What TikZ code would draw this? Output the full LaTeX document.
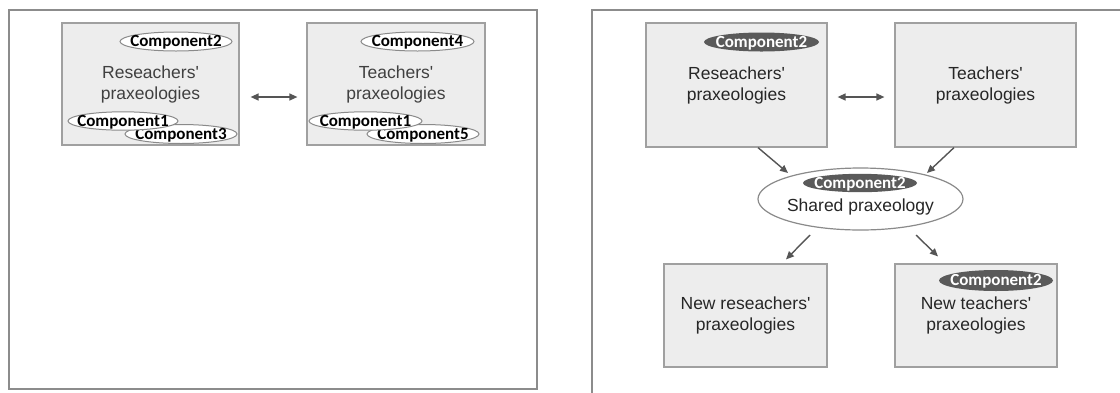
\documentclass[tikz,border=0pt]{standalone}
\usepackage{fontspec}
\setmainfont{Liberation Sans}
\newfontfamily\compfont{Carlito}
\usetikzlibrary{shapes.geometric,arrows.meta}
\definecolor{panelline}{HTML}{8C8C8C}
\definecolor{boxline}{HTML}{A0A0A0}
\definecolor{boxfill}{HTML}{EDEDED}
\definecolor{ovalline}{HTML}{8A8A8A}
\definecolor{darkoval}{HTML}{5A5A5A}
\definecolor{arrowgray}{HTML}{555555}
\definecolor{softtext}{HTML}{404040}
\definecolor{hardtext}{HTML}{262626}
% zero-width label so the oval keeps the size given by its style
\newcommand\ctag[1]{\makebox[0pt]{#1}}
\begin{document}
\begin{tikzpicture}[x=1pt,y=-1pt,
  panel/.style={draw=panelline,line width=1.5pt},
  pbox/.style={draw=boxline,fill=boxfill,line width=1.2pt,inner sep=0pt,
    align=center,font=\fontsize{17.5}{21}\selectfont},
  softbox/.style={pbox,text=softtext},
  hardbox/.style={pbox,text=hardtext},
  tagfont/.style={font=\compfont\bfseries\fontsize{17}{18}\selectfont,
    text height=11.5pt,text depth=1.5pt},
  comp/.style={ellipse,draw=ovalline,fill=white,line width=1pt,inner sep=0pt,
    minimum width=112pt,minimum height=19pt,text=black,tagfont},
  darkcomp/.style={ellipse,fill=darkoval,inner sep=0pt,
    minimum width=115pt,minimum height=19pt,text=white,tagfont},
  link/.style={draw=arrowgray,line width=1.4pt,
    -{Triangle[length=8pt,width=7pt]}},
  twoway/.style={link,{Triangle[length=8pt,width=7pt]}-{Triangle[length=8pt,width=7pt]}}
]
\useasboundingbox (0,0) rectangle (1120,392);
\clip (0,0) rectangle (1120,392);

% ---------- left panel: separate praxeologies ----------
\draw[panel] (9,10) rectangle (537,389);

\node[softbox,minimum width=177pt,minimum height=122pt] (lres) at (150.5,84)
  {Reseachers\textquotesingle\\praxeologies};
\node[softbox,minimum width=178pt,minimum height=122pt] (ltea) at (396,84)
  {Teachers\textquotesingle\\praxeologies};

% lower ovals first, so Component1 lies on top of them
\node[comp] (lrc3) at (181,134) {\ctag{Component3}};
\node[comp] (ltc5) at (423,134) {\ctag{Component5}};
\node[comp] (lrc2) at (176,41.5) {\ctag{Component2}};
\node[comp,minimum width=110pt,minimum height=18pt] (lrc1) at (123,121) {\ctag{Component1}};
\node[comp,minimum width=113pt] (ltc4) at (417.5,41.5) {\ctag{Component4}};
\node[comp,minimum width=113pt,minimum height=18pt] (ltc1) at (365.5,121) {\ctag{Component1}};

\draw[twoway,shorten <=11pt,shorten >=9pt]
  ([yshift=-13pt]lres.east) -- ([yshift=-13pt]ltea.west);

% ---------- right panel: shared praxeology ----------
\draw[panel] (592,10) rectangle (1140,410);

\node[hardbox,minimum width=181pt,minimum height=124pt] (rres) at (736.5,85)
  {Reseachers\textquotesingle\\praxeologies};
\node[hardbox,minimum width=181pt,minimum height=124pt] (rtea) at (985.5,85)
  {Teachers\textquotesingle\\praxeologies};
\node[darkcomp] (rrc2) at (761.5,42) {\ctag{Component2}};

\draw[twoway,shorten <=10pt,shorten >=10pt]
  ([yshift=-12pt]rres.east) -- ([yshift=-12pt]rtea.west);

\node[ellipse,draw=ovalline,fill=white,line width=1.2pt,inner sep=0pt,
  minimum width=205pt,minimum height=62pt] (shared) at (860.5,199) {};
\node[text=hardtext,font=\fontsize{17.5}{21}\selectfont,inner sep=0pt]
  (sharedtxt) at (860.5,207) {Shared praxeology};
\node[darkcomp,minimum width=114pt,minimum height=18pt] (sc2) at (860,183) {\ctag{Component2}};

\node[hardbox,minimum width=163pt,minimum height=103pt] (rnres) at (745.5,315.5)
  {New reseachers\textquotesingle\\praxeologies};
\node[hardbox,minimum width=162pt,minimum height=103pt] (rntea) at (976,315.5)
  {New teachers\textquotesingle\\praxeologies};
\node[darkcomp,minimum width=114pt,minimum height=21pt] (rnc2) at (996,280.5) {\ctag{Component2}};

\draw[link] ([xshift=21.5pt]rres.south) -- ([shift={(-72.5,-26)}]shared.center);
\draw[link] ([xshift=-31.5pt]rtea.south) -- ([shift={(66.5,-26)}]shared.center);
\draw[link] ([shift={(-50.5,36)}]shared.center) -- ([shift={(40.5,-4)}]rnres.north);
\draw[link] ([shift={(55.5,36)}]shared.center) -- ([shift={(-38,-7)}]rntea.north);
\end{tikzpicture}
\end{document}
